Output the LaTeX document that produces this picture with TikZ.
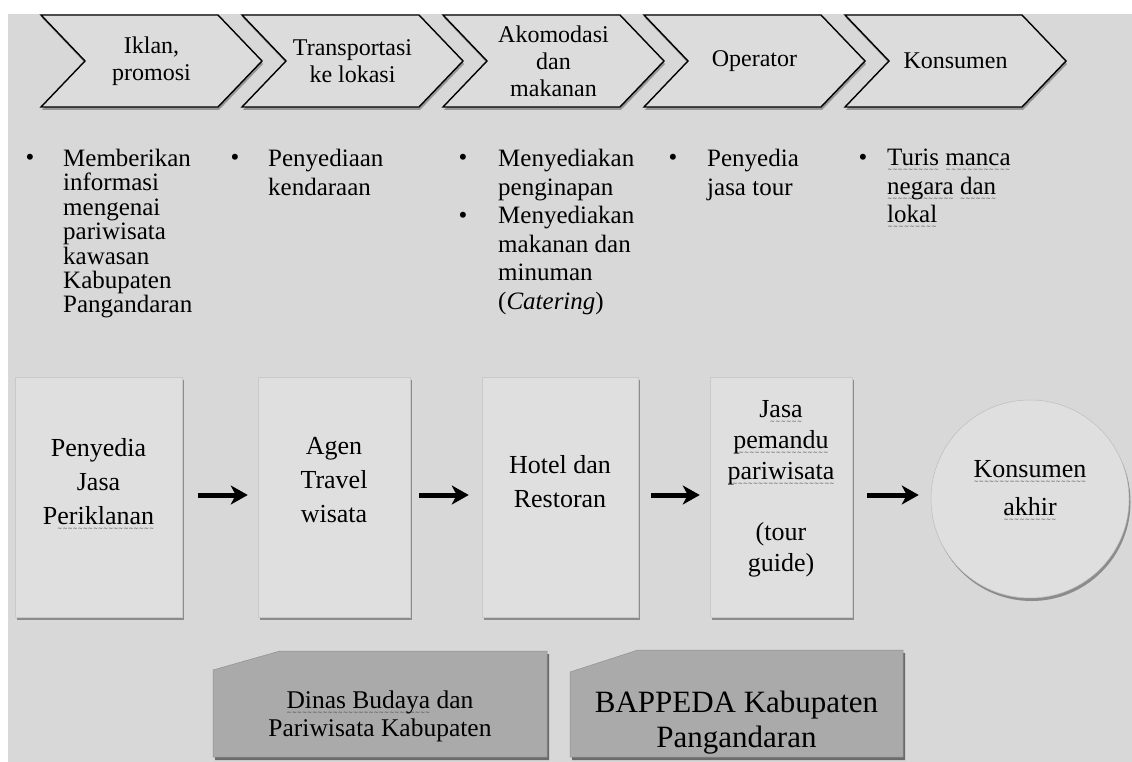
\documentclass[tikz,border=0pt]{standalone}
\usepackage{fontspec}
\setmainfont{Liberation Serif}
\newfontfamily\sqf{DejaVu Sans}
\usetikzlibrary{shadows,arrows.meta}
\definecolor{bgcol}{RGB}{216,216,216}
\definecolor{boxcol}{RGB}{223,223,223}
\definecolor{chevcol}{RGB}{220,220,220}
\definecolor{darkboxcol}{RGB}{170,170,170}
\definecolor{sqcol}{RGB}{60,60,60}
\newsavebox\sqbox
\newcommand\squig[1]{\sbox\sqbox{#1}\smash{\rlap{\lower6pt\hbox to \wd\sqbox{\color{sqcol}\sqf\fontsize{6}{6}\selectfont\xleaders\hbox{\char"007E}\hfill}}}\usebox\sqbox}
\newcommand\chevron[3]{%
  \draw[chev] (#1,15) -- ({#1+177},15) -- ({#1+221},61) -- ({#1+177},107) -- (#1,107) -- ({#1+44},61) -- cycle;
  \node[chevtext] (#2) at ({#1+110.5},61) {#3};}
\begin{document}
\begin{tikzpicture}[x=1pt,y=-1pt,
  chev/.style={draw=black, line width=1.4pt, fill=chevcol, line join=miter,
    drop shadow={shadow xshift=1pt, shadow yshift=-3pt, opacity=0.3, fill=black}},
  chevtext/.style={align=center, inner sep=0pt, font=\fontsize{24}{27}\selectfont},
  bul/.style={anchor=base, inner sep=0pt, font=\fontsize{25}{28.6}\selectfont},
  bultext/.style={anchor=north west, align=left, inner sep=0pt, font=\fontsize{25}{28.6}\selectfont},
  box/.style={fill=boxcol, draw=boxcol!90!black, line width=0.5pt, minimum height=240pt,
    drop shadow={shadow xshift=1.5pt, shadow yshift=-3pt, opacity=0.35, fill=black}},
  boxtext/.style={align=center, inner sep=0pt, font=\fontsize{26}{34}\selectfont},
  arr/.style={line width=5pt, -{Stealth[length=17pt,width=19pt,inset=5pt]}},
  darkbox/.style={fill=darkboxcol, draw=darkboxcol!85!black, line width=0.5pt,
    drop shadow={shadow xshift=2pt, shadow yshift=-3pt, opacity=0.5, fill=black}},
]
\useasboundingbox (0,0) rectangle (1132,762);
\fill[white] (0,0) rectangle (1132,762);
\fill[bgcol] (8,14) rectangle (1132,762);

% top chevrons
\chevron{41}{k1}{Iklan,\\promosi}
\chevron{242}{k2}{Transportasi\\ke lokasi}
\chevron{443}{k3}{Akomodasi\\dan\\makanan}
\chevron{644}{k4}{Operator}
\chevron{845}{k5}{Konsumen}

% bullet lists
\node[bul] (p1) at (30,166) {•};
\node[bultext, font=\fontsize{25}{24.4}\selectfont] (d1) at (63,149) {Memberikan\\informasi\\mengenai\\pariwisata\\kawasan\\Kabupaten\\Pangandaran};
\node[bul] (p2) at (235,166) {•};
\node[bultext] (d2) at (268,149) {Penyediaan\\kendaraan};
\node[bul] (p3) at (463,166) {•};
\node[bul] (p3b) at (463,223.2) {•};
\node[bultext] (d3) at (498,149) {Menyediakan\\penginapan\\Menyediakan\\makanan dan\\minuman\\(\textit{Catering})};
\node[bul] (p4) at (673,166) {•};
\node[bultext] (d4) at (707,149) {Penyedia\\jasa tour};
\node[bul] (p5) at (863,166) {•};
\node[bultext] (d5) at (887,149) {\squig{Turis} \squig{manca}\\\squig{negara} \squig{dan}\\\squig{lokal}};

% middle boxes
\node[box, minimum width=167pt] (b1) at (98.5,497) {};
\node[boxtext] (t1) at ([yshift=15pt]b1.center) {Penyedia\\Jasa\\P\squig{eriklanan}};
\node[box, minimum width=152pt] (b2) at (334,497) {};
\node[boxtext] (t2) at ([yshift=17pt]b2.center) {Agen\\Travel\\wisata};
\node[box, minimum width=156pt] (b3) at (560,497) {};
\node[boxtext] (t3) at ([yshift=15pt]b3.center) {Hotel dan\\Restoran};
\node[box, minimum width=142pt] (b4) at (781,497) {};
\node[boxtext, font=\fontsize{26}{31}\selectfont] (t4) at ([yshift=8pt]b4.center) {J\squig{asa}\\\squig{pemandu}\\\squig{pariwisata}\\[30pt](tour\\guide)};
\node[box, circle, minimum size=198pt, draw=boxcol!85!black] (c1) at (1030,499) {};
\node[boxtext, font=\fontsize{26}{38}\selectfont] (t5) at ([yshift=11pt]c1.center) {\squig{Konsumen}\\\squig{akhir}};

% arrows
\draw[arr, shorten <=16pt, shorten >=10pt] ([yshift=2pt]b1.east) -- ([yshift=2pt]b2.west);
\draw[arr, shorten <=9pt, shorten >=13pt] ([yshift=2pt]b2.east) -- ([yshift=2pt]b3.west);
\draw[arr, shorten <=13pt, shorten >=10pt] ([yshift=2pt]b3.east) -- ([yshift=2pt]b4.west);
\draw[arr, shorten <=15pt, shorten >=12pt] ([yshift=2pt]b4.east) -- ([yshift=4pt]c1.west);

% bottom boxes
\draw[darkbox] (213,670) -- (280,651) -- (547,651) -- (547,757) -- (213,757) -- cycle;
\node[align=center, inner sep=0pt, font=\fontsize{25.5}{28}\selectfont] (g1) at (380,716) {\squig{Dinas Budaya} dan\\Pariwisata Kabupaten};
\draw[darkbox] (570,672) -- (638,650) -- (903,650) -- (903,757) -- (570,757) -- cycle;
\node[align=center, inner sep=0pt, font=\fontsize{31}{35}\selectfont] (g2) at (736.5,723) {BAPPEDA Kabupaten\\Pangandaran};
\end{tikzpicture}
\end{document}
